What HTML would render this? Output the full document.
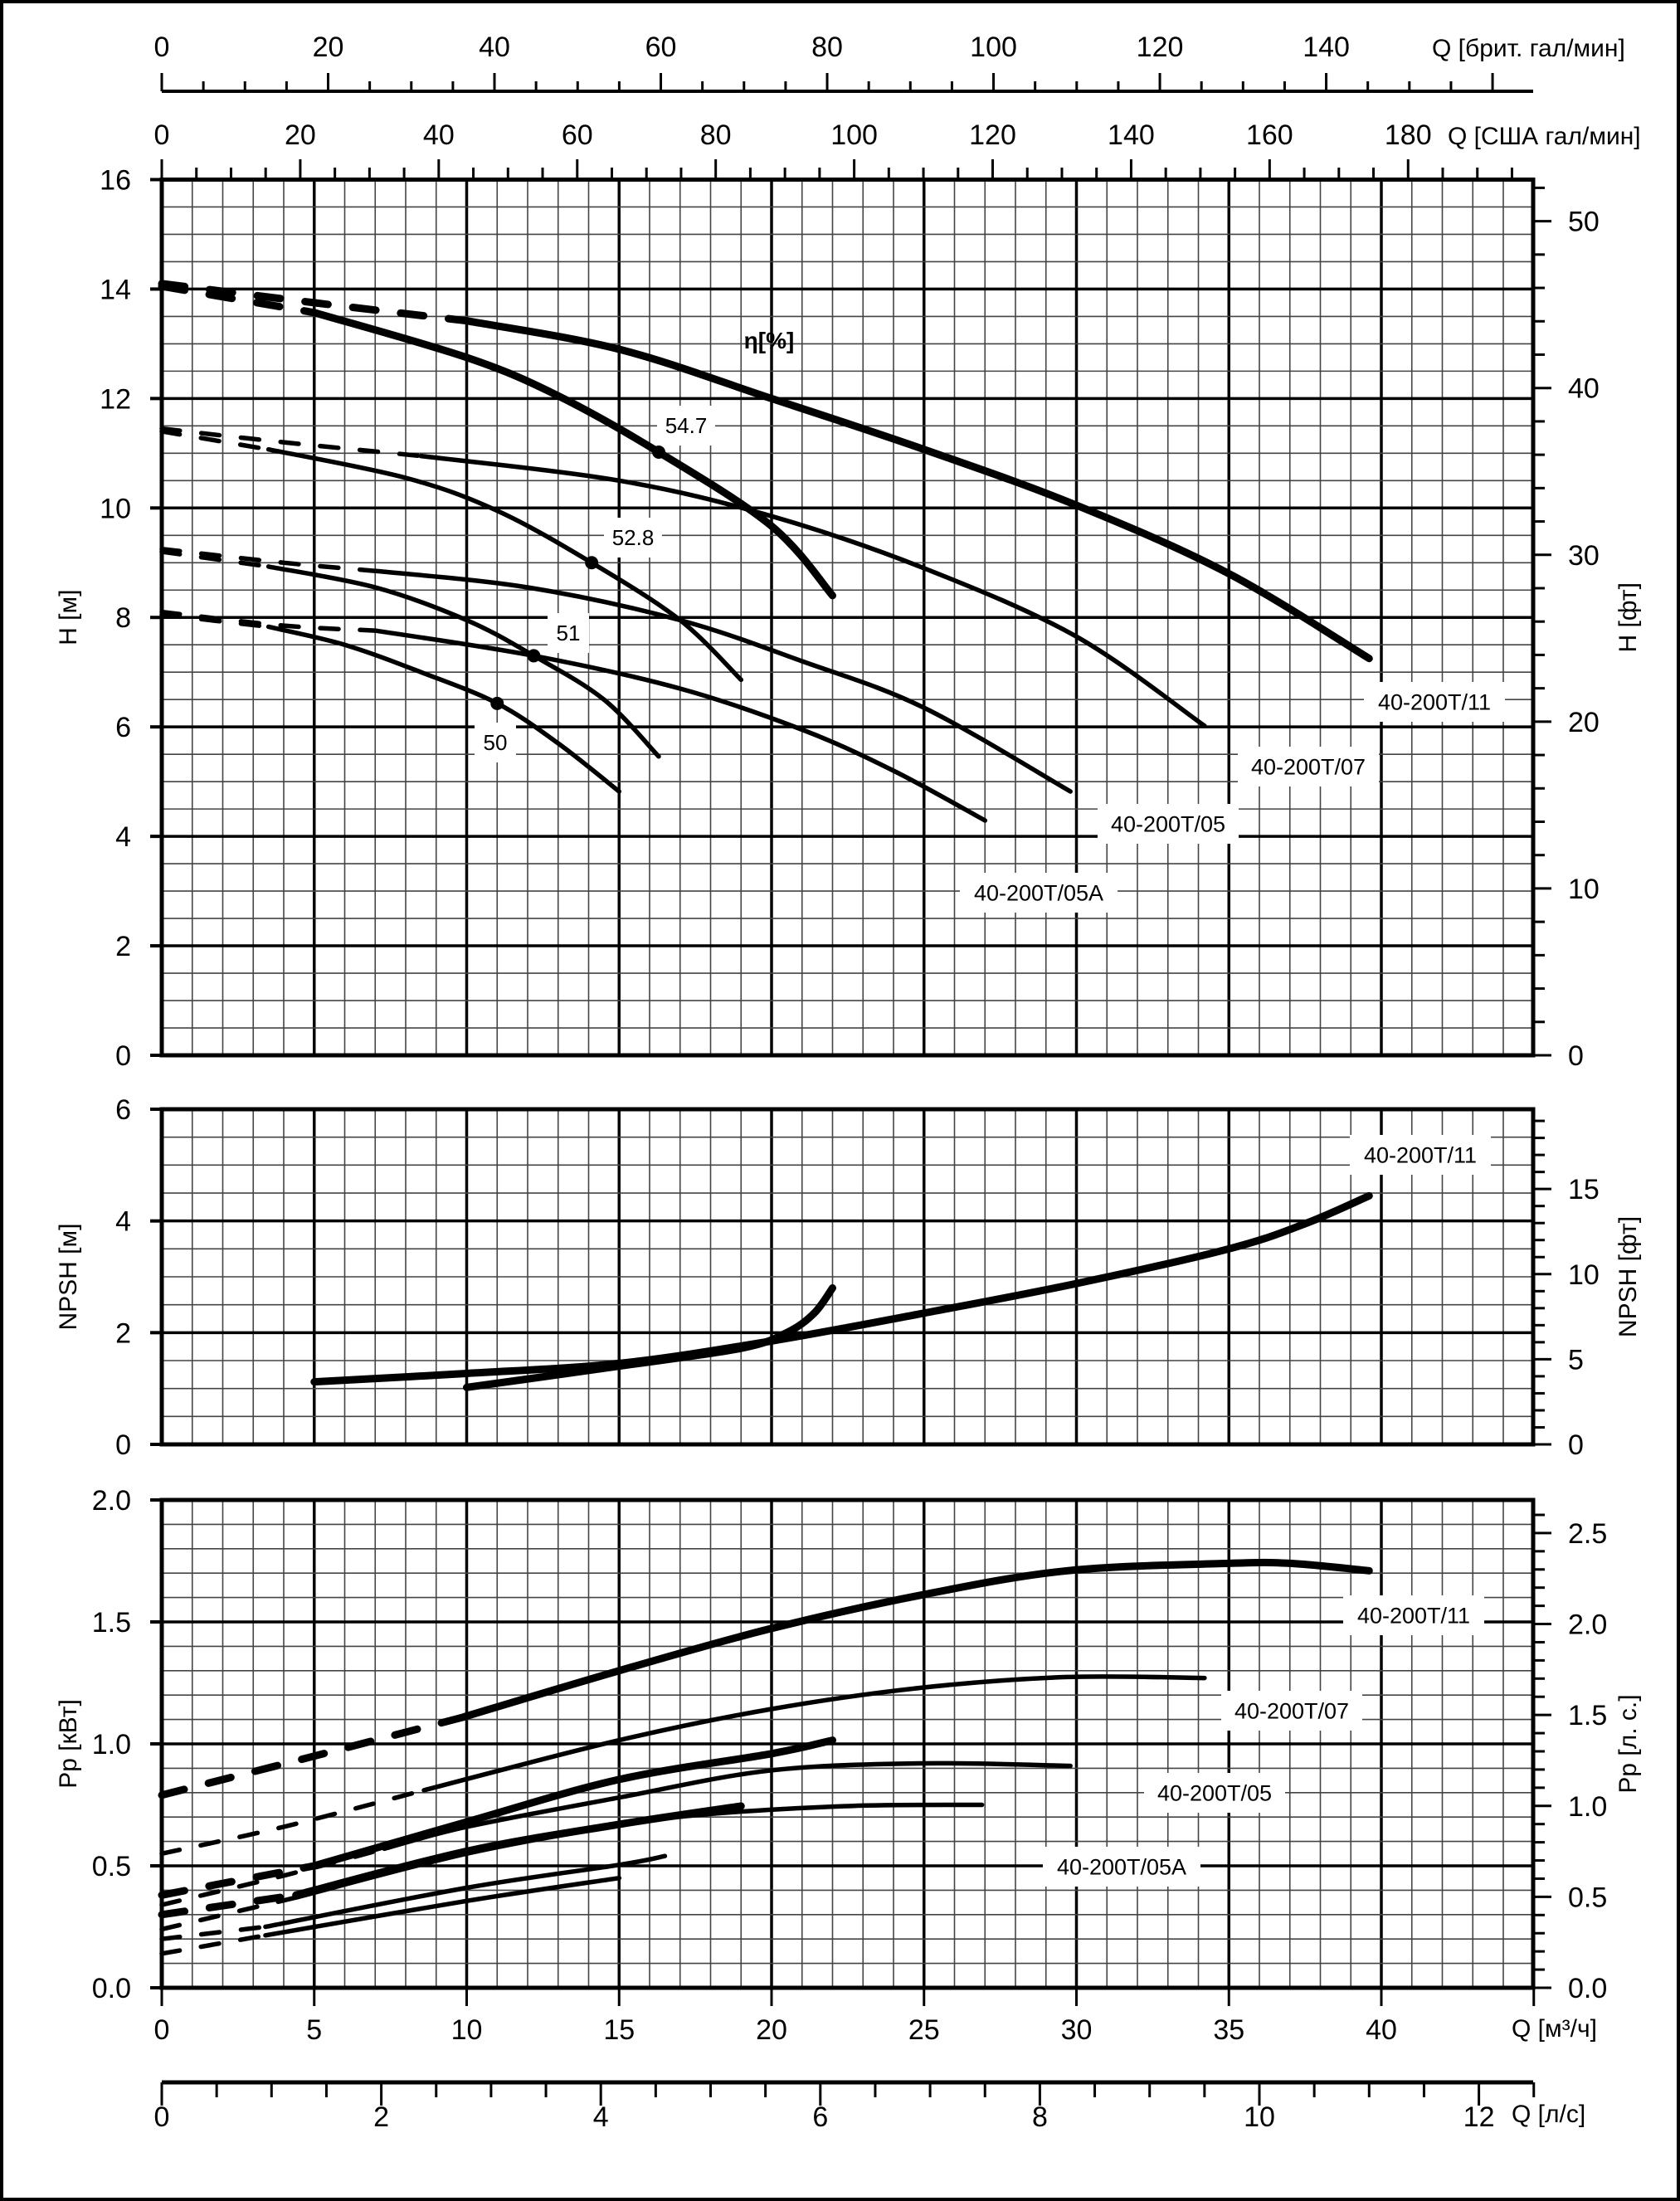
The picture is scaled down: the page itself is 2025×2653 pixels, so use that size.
<!DOCTYPE html>
<html><head><meta charset="utf-8">
<style>
html,body{margin:0;padding:0;background:#fff;}
svg{display:block;}
text{font-family:"Liberation Sans","DejaVu Sans",sans-serif;fill:#000;}
</style></head>
<body>
<svg id="s" width="2025" height="2653" xmlns="http://www.w3.org/2000/svg"></svg>
<script>
const S=document.getElementById('s');
let out='';
const X0=195, KX=36.75, XR=1848;
const QX=q=>X0+q*KX;
const HY=h=>1272-h*65.97;
const NY=n=>1741-n*67.33;
const PY=p=>2396-p*294;
function line(x1,y1,x2,y2,w,c){out+=`<line x1="${x1}" y1="${y1}" x2="${x2}" y2="${y2}" stroke="${c||'#000'}" stroke-width="${w}"/>`;}
function txt(x,y,s,fs,anchor,extra){out+=`<text x="${x}" y="${y}" font-size="${fs}" text-anchor="${anchor||'middle'}" ${extra||''}>${s}</text>`;}
out+=`<rect x="2" y="2" width="2021" height="2649" fill="none" stroke="#000" stroke-width="4"/>`;
function grid(yTop,yBot,vmin,vmax,minor,major,yf){
  for(let q=0;q<=45;q++){const x=QX(q);const maj=q%5==0;line(x,yTop,x,yBot,maj?3.5:1.6,maj?'#000':'#444');}
  for(let v=vmin;v<=vmax+1e-9;v+=minor){const y=yf(v);const maj=Math.abs(v/major-Math.round(v/major))<1e-6;line(X0,y,XR,y,maj?3.5:1.6,maj?'#000':'#444');}
  out+=`<rect x="${X0}" y="${yTop}" width="${XR-X0}" height="${yBot-yTop}" fill="none" stroke="#000" stroke-width="5"/>`;
}
grid(HY(16),HY(0),0,16,0.5,2,HY);
grid(NY(6),NY(0),0,6,0.5,2,NY);
grid(PY(2),PY(0),0,2,0.1,0.5,PY);
for(let h=0;h<=16;h+=2){line(X0-14,HY(h),X0,HY(h),4);txt(158,HY(h)+12,h,34,'end');}
for(let n=0;n<=6;n+=2){line(X0-14,NY(n),X0,NY(n),4);txt(158,NY(n)+12,n,34,'end');}
for(let p=0;p<=2.001;p+=0.5){line(X0-14,PY(p),X0,PY(p),4);txt(158,PY(p)+12,p.toFixed(1),34,'end');}
const FT=0.3048, HP=0.7457;
for(let f=0;f<=52;f+=2){const y=HY(f*FT);line(XR,y,XR+(f%10==0?22:14),y,3);if(f%10==0)txt(1890,y+12,f,34,'start');}
for(let f=0;f<=19;f++){const y=NY(f*FT);line(XR,y,XR+(f%5==0?22:14),y,3);if(f%5==0)txt(1890,y+12,f,34,'start');}
for(let k=0;k<=26;k++){const hp=k/10;const y=PY(hp*HP);line(XR,y,XR+(k%5==0?22:14),y,3);if(k%5==0)txt(1890,y+12,hp.toFixed(1),34,'start');}
function vt(x,y,s){out+=`<text x="${x}" y="${y}" font-size="30" text-anchor="middle" transform="rotate(-90 ${x} ${y})">${s}</text>`;}
vt(92,HY(8),'H [м]');vt(92,NY(3),'NPSH [м]');vt(92,PY(1),'Pp [кВт]');
vt(1972,HY(8),'H [фт]');vt(1972,NY(3),'NPSH [фт]');vt(1972,PY(1),'Pp [л. с.]');
line(X0,110,XR,110,4);
const BG=0.2728*KX, UG=0.2271*KX;
for(let g=0;g*BG+X0<=XR;g+=5){const x=X0+g*BG;line(x,110,x,g%20==0?88:98,3);}
for(let g=0;g<=140;g+=20)txt(X0+g*BG,68,g,34);
txt(1726,68,'Q [брит. гал/мин]',30,'start');
for(let g=0;g*UG+X0<=XR;g+=5){const x=X0+g*UG;line(x,216,x,g%20==0?192:202,3);}
for(let g=0;g<=180;g+=20)txt(X0+g*UG,174,g,34);
txt(1745,174,'Q [США гал/мин]',30,'start');
for(let q=0;q<=45;q+=5){line(QX(q),PY(0),QX(q),PY(0)+22,3);if(q<=40)txt(QX(q),2458,q,34);}
txt(1822,2455,'Q [м³/ч]',30,'start');
line(X0,2510,XR,2510,5);
const LS=3.6*KX;
for(let k=0;k<=25;k++){const x=X0+k*0.5*LS;line(x,2510,x,k%4==0?2538:2528,3);}
for(let l=0;l<=12;l+=2)txt(X0+l*LS,2563,l,34);
txt(1822,2558,'Q [л/с]',30,'start');
function path(pts,yf,w,dash){
  const P=pts.map(p=>[QX(p[0]),yf(p[1])]);
  let d='M'+P[0][0]+','+P[0][1];
  for(let i=0;i<P.length-1;i++){const p0=P[i-1]||P[i],p1=P[i],p2=P[i+1],p3=P[i+2]||p2;
    const c1=[p1[0]+(p2[0]-p0[0])/6,p1[1]+(p2[1]-p0[1])/6],c2=[p2[0]-(p3[0]-p1[0])/6,p2[1]-(p3[1]-p1[1])/6];
    d+=`C${c1[0].toFixed(1)},${c1[1].toFixed(1)} ${c2[0].toFixed(1)},${c2[1].toFixed(1)} ${p2[0].toFixed(1)},${p2[1].toFixed(1)}`;}
  out+=`<path d="${d}" fill="none" stroke="#000" stroke-width="${w}" stroke-linecap="round" ${dash?`stroke-dasharray="${dash}"`:''}/>`;
}
const TK=9, TN=5.5, DT='28 30', DN='22 26';
path([[0,14.1],[5,13.75],[10,13.42]],HY,TK,DT);
path([[10,13.42],[15,12.9],[20,12.0],[25,11.07],[30,10.05],[35,8.8],[39.6,7.25]],HY,TK);
path([[0,14.05],[5,13.57]],HY,TK,DT);
path([[5,13.57],[10,12.75],[13,12.05],[16.3,11.02],[20,9.67],[22,8.4]],HY,TK);
path([[0,11.45],[4,11.2],[8.5,10.95]],HY,TN,DN);
path([[8.5,10.95],[15,10.5],[20,9.85],[25,8.9],[30,7.65],[34.2,6.02]],HY,TN);
path([[0,11.4],[3.5,11.07]],HY,TN,DN);
path([[3.5,11.07],[8,10.55],[11,9.95],[14.1,9.0],[17,7.95],[19,6.86]],HY,TN);
path([[0,9.25],[4,9.0],[7,8.85]],HY,TN,DN);
path([[7,8.85],[12,8.55],[17,7.95],[21,7.2],[25,6.35],[29.8,4.82]],HY,TN);
path([[0,9.2],[3.5,8.93]],HY,TN,DN);
path([[3.5,8.93],[7,8.55],[10,7.95],[12.2,7.3],[14.5,6.5],[16.3,5.46]],HY,TN);
path([[0,8.1],[4,7.85],[7,7.76]],HY,TN,DN);
path([[7,7.76],[12.2,7.3],[17,6.7],[21,5.95],[24,5.2],[27,4.29]],HY,TN);
path([[0,8.05],[3.5,7.83]],HY,TN,DN);
path([[3.5,7.83],[6,7.5],[8.5,7.0],[11,6.43],[13,5.7],[15,4.82]],HY,TN);
[[16.3,11.02],[14.1,9.0],[12.2,7.3],[11,6.43]].forEach(p=>out+=`<circle cx="${QX(p[0])}" cy="${HY(p[1])}" r="8"/>`);
function box(cx,cy,s,fs,w){out+=`<rect x="${cx-w/2}" y="${cy-24}" width="${w}" height="48" fill="#fff"/>`;txt(cx,cy+fs*0.35,s,fs);}
box(827,513,'54.7',26,70);box(763,648,'52.8',26,70);box(685,763,'51',26,50);box(597,895,'50',26,50);
txt(927,420,'η[%]',28,'middle','font-weight="bold"');
box(1729,846,'40-200T/11',27,170);box(1577,924,'40-200T/07',27,170);box(1408,993,'40-200T/05',27,170);box(1252,1076,'40-200T/05A',27,190);
path([[5,1.12],[10,1.27],[15,1.45],[20,1.85],[25,2.35],[30,2.88],[35,3.5],[37.5,3.95],[39.6,4.45]],NY,TK);
path([[10,1.02],[15,1.4],[19,1.72],[20.5,2.0],[21.4,2.35],[22,2.8]],NY,TK);
box(1712,1392,'40-200T/11',27,170);
path([[0,0.79],[5,0.95],[9.9,1.11]],PY,TK,DT);
path([[9.9,1.11],[15,1.30],[19.9,1.47],[24.9,1.61],[29.7,1.71],[35,1.74],[37,1.74],[39.6,1.71]],PY,TK);
path([[0,0.55],[4,0.66],[8.6,0.81]],PY,TN,DN);
path([[8.6,0.81],[15,1.015],[20,1.143],[24.9,1.23],[29.7,1.274],[34.2,1.27]],PY,TN);
path([[0,0.38],[5,0.5]],PY,TK,DT);
path([[5,0.5],[10,0.68],[15,0.854],[20,0.96],[22,1.015]],PY,TK);
path([[0,0.34],[4,0.46],[7.3,0.57]],PY,TN,DN);
path([[7.3,0.57],[10,0.66],[15,0.78],[19.9,0.89],[24.9,0.92],[29.8,0.91]],PY,TN);
path([[0,0.3],[4.4,0.38]],PY,TK,DT);
path([[4.4,0.38],[10,0.56],[15,0.67],[19,0.745]],PY,TK);
path([[0,0.24],[4.4,0.37]],PY,TN,DN);
path([[4.4,0.37],[10,0.55],[15,0.665],[18,0.713],[22.7,0.746],[26.9,0.75]],PY,TN);
path([[0,0.2],[3.4,0.25]],PY,TN,DN);
path([[3.4,0.25],[10,0.41],[15,0.504],[16.5,0.54]],PY,TN);
path([[0,0.14],[3.4,0.215]],PY,TN,DN);
path([[3.4,0.215],[10,0.356],[15,0.45]],PY,TN);
box(1704,1947,'40-200T/11',27,170);box(1557,2062,'40-200T/07',27,170);box(1464,2161,'40-200T/05',27,170);box(1352,2250,'40-200T/05A',27,190);
S.innerHTML=out;
</script>
</body></html>
